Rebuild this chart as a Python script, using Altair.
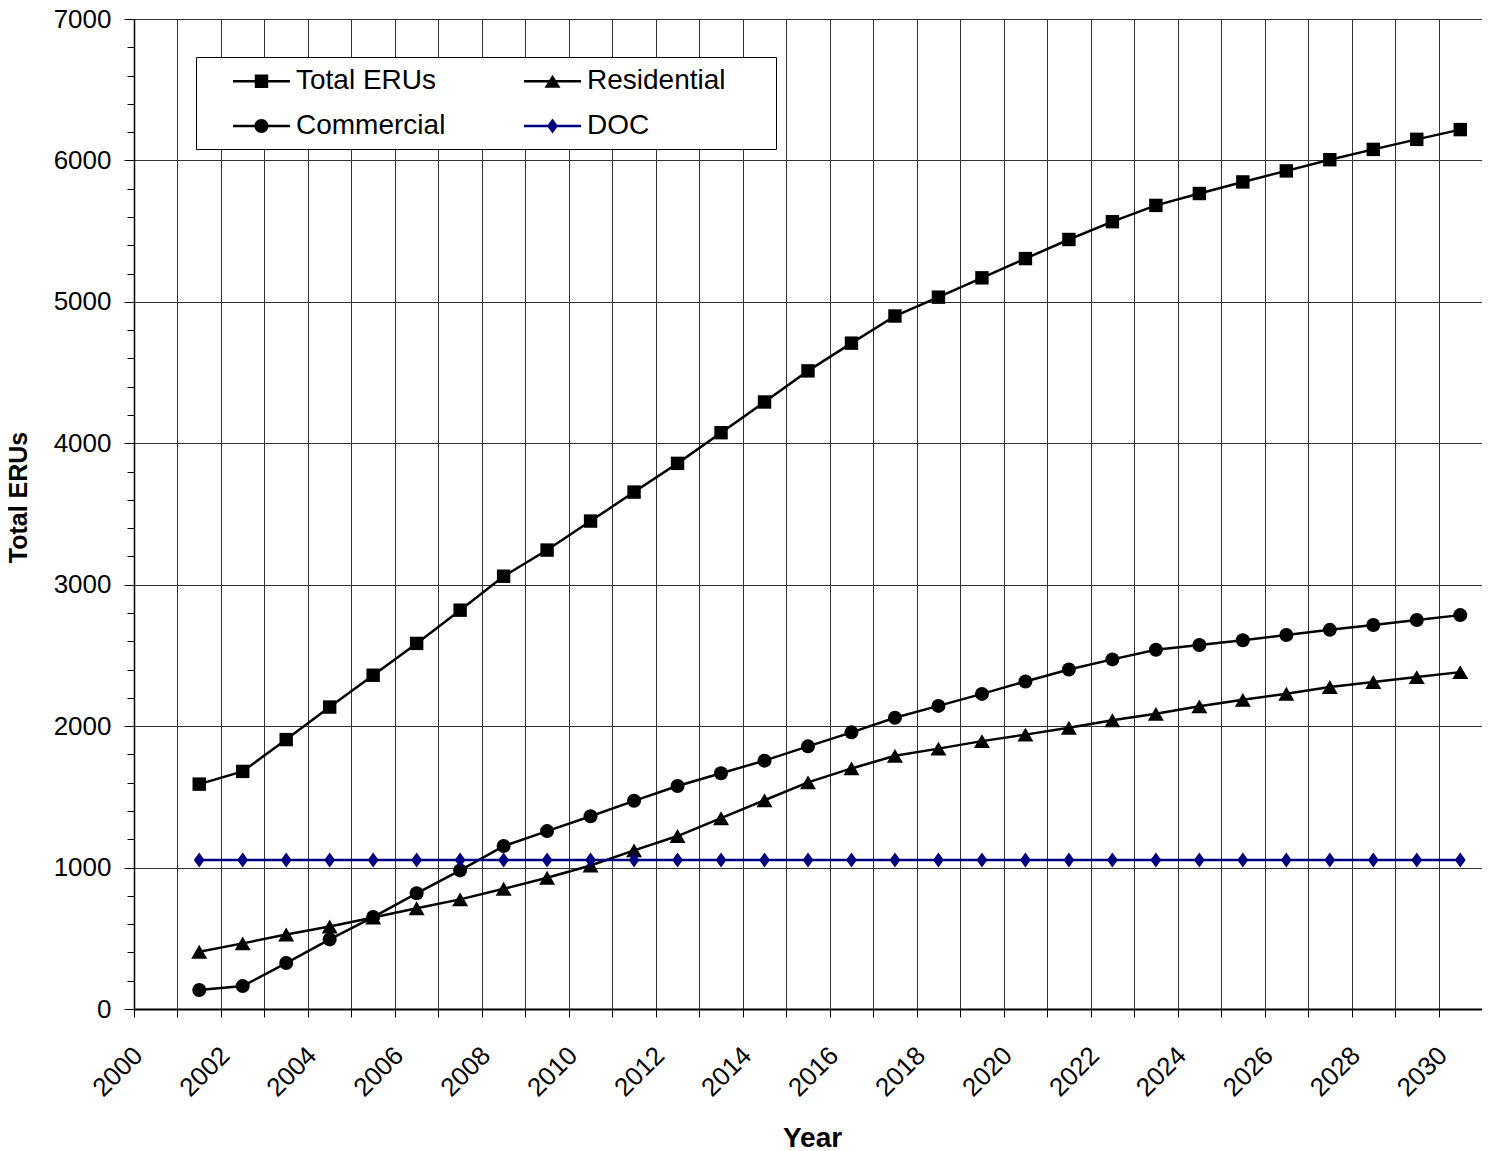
import altair as alt
import pandas as pd

# ---------------- data ----------------
years = [2001, 2002, 2003, 2004, 2005, 2006, 2007, 2008, 2009, 2010,
         2011, 2012, 2013, 2014, 2015, 2016, 2017, 2018, 2019, 2020,
         2021, 2022, 2023, 2024, 2025, 2026, 2027, 2028, 2029, 2030]

total_erus = [1590, 1680, 1905, 2135, 2360, 2585, 2820, 3060, 3245, 3450,
              3655, 3858, 4075, 4292, 4512, 4708, 4900, 5033, 5170, 5306,
              5441, 5567, 5682, 5766, 5848, 5926, 6005, 6078, 6149, 6218]

residential = [405, 464, 527, 583, 647, 712, 775, 850, 928, 1015,
               1122, 1223, 1349, 1476, 1602, 1701, 1790, 1841, 1894, 1940,
               1989, 2042, 2087, 2140, 2186, 2229, 2277, 2312, 2347, 2382]

commercial = [134, 162, 325, 492, 650, 818, 980, 1152, 1258, 1363,
              1472, 1577, 1667, 1756, 1857, 1956, 2059, 2143, 2228, 2316,
              2401, 2472, 2540, 2574, 2607, 2644, 2681, 2715, 2751, 2785]

doc = [1054, 1054, 1054, 1054, 1054, 1054, 1054, 1054, 1054, 1054,
       1054, 1054, 1054, 1054, 1054, 1054, 1054, 1054, 1054, 1054,
       1054, 1054, 1054, 1054, 1054, 1054, 1054, 1054, 1054, 1054]

series_names = ["Total ERUs", "Residential", "Commercial", "DOC"]
series_colors = ["#000000", "#000000", "#000000", "#000080"]

x_tick_years = [2000, 2001, 2002, 2003, 2004, 2005, 2006, 2007, 2008, 2009,
                2010, 2011, 2012, 2013, 2014, 2015, 2016, 2017, 2018, 2019,
                2020, 2021, 2022, 2023, 2024, 2025, 2026, 2027, 2028, 2029,
                2030, 2031]
y_ticks = list(range(0, 7001, 200))   # labelled and gridded every 1000

rows = []
for name, col, vals in zip(series_names, series_colors,
                           [total_erus, residential, commercial, doc]):
    for yr, v in zip(years, vals):
        rows.append({"series": name, "col": col, "year": yr, "value": v})
df = pd.DataFrame(rows)

FONT = "Liberation Sans"
MAJOR = "datum.value % 1000 === 0"

# ---------------- scales / axes ----------------
x_scale = alt.Scale(domain=[2000, 2031], nice=False, zero=False)
y_scale = alt.Scale(domain=[0, 7000], nice=False, zero=True)

x_axis = alt.Axis(
    orient="bottom", values=x_tick_years, format="d",
    labelExpr="datum.value % 2 === 0 ? datum.label : ''",
    labelAngle=315, labelAlign="right", labelBaseline="middle",
    labelFont=FONT, labelFontSize=26, labelColor="black",
    labelPadding=34, labelOffset=4, labelOverlap=False, labelFlush=False, labelBound=False,
    tickSize=8, tickColor="black", tickWidth=1,
    grid=True, gridColor="#333333", gridWidth=1,
    domainColor="black", domainWidth=2,
    title="Year", titleFont=FONT, titleFontSize=28, titleFontWeight="bold",
    titleColor="black", titleX=678, titleY=137, titleAlign="center",
    titleBaseline="alphabetic",
)

y_axis = alt.Axis(
    orient="left", values=y_ticks, format="d",
    labelExpr=MAJOR + " ? datum.label : ''",
    labelFont=FONT, labelFontSize=26, labelColor="black", labelPadding=13,
    labelFlush=False, labelOverlap=False,
    tickSize={"condition": {"test": MAJOR, "value": 10}, "value": 7},
    tickColor="black", tickWidth=1,
    grid=True, gridColor="#333333", gridWidth=1,
    gridOpacity={"condition": {"test": MAJOR, "value": 1}, "value": 0},
    domainColor="black", domainWidth=1.5,
    title="Total ERUs", titleFont=FONT, titleFontSize=25, titleFontWeight="bold",
    titleColor="black", titleAngle=270, titleX=-108, titleY=478,
    titleAlign="center", titleBaseline="alphabetic",
)

base = alt.Chart(df).transform_calculate(xpos="datum.year + 0.5")

lines = base.mark_line(strokeWidth=2.5).encode(
    x=alt.X("xpos:Q", scale=x_scale, axis=x_axis),
    y=alt.Y("value:Q", scale=y_scale, axis=y_axis),
    color=alt.Color("col:N", scale=None),
    detail="series:N",
)

marker_specs = [
    ("Total ERUs", "square", 180),
    ("Residential", "triangle-up", 256),
    ("Commercial", "circle", 196),
    ("DOC", "M0,-1L0.72,0L0,1L-0.72,0Z", 225),
]

point_layers = []
for name, shp, sz in marker_specs:
    lay = base.transform_filter(alt.datum.series == name).mark_point(
        shape=shp, size=sz, filled=True, opacity=1, strokeWidth=0
    ).encode(
        x=alt.X("xpos:Q", scale=x_scale, axis=x_axis),
        y=alt.Y("value:Q", scale=y_scale, axis=y_axis),
        color=alt.Color("col:N", scale=None),
    )
    point_layers.append(lay)

# legend symbols: short line with the marker in the middle (unit = 15.5 px)
bar = "M-1.839,-0.081H1.839V0.081H-1.839Z"
reach = "M13.82,0"   # right-hand reach of the second legend column (no ink)
legend_paths = [
    bar + "M-0.432,-0.432H0.432V0.432H-0.432Z",
    bar + "M0,-0.419L0.516,0.419L-0.516,0.419Z" + reach,
    bar + "M0.452,0A0.452,0.452,0,1,1,-0.452,0A0.452,0.452,0,1,1,0.452,0Z",
    bar + "M0,-0.484L0.355,0L0,0.484L-0.355,0Z" + reach,
]

leg = alt.Legend(
    title=None, orient="none", legendX=62, legendY=38,
    columns=2, direction="horizontal", padding=8.5,
    fillColor="white", strokeColor="black", cornerRadius=0,
    labelFont=FONT, labelFontSize=28, labelColor="black", labelLimit=0,
    labelOffset=19, symbolOffset=41.5, symbolSize=961, symbolStrokeWidth=0,
    symbolOpacity=1, columnPadding=50, rowPadding=15, gridAlign="each",
)

legend_layer = alt.Chart(df).transform_filter("false").mark_point(
    filled=True, opacity=1, size=961, strokeWidth=0
).encode(
    color=alt.Color("series:N", scale=alt.Scale(domain=series_names, range=series_colors), legend=leg),
    shape=alt.Shape("series:N", scale=alt.Scale(domain=series_names, range=legend_paths), legend=leg),
)

chart = alt.layer(lines, *point_layers, legend_layer).properties(
    width=1348, height=990,
    padding={"left": 126, "top": 11, "right": 0, "bottom": 138},
    autosize=alt.AutoSizeParams(type="none"),
    background="white",
).configure_view(stroke=None)

chart.save("out.html", embed_options={"renderer": "svg", "actions": False})
